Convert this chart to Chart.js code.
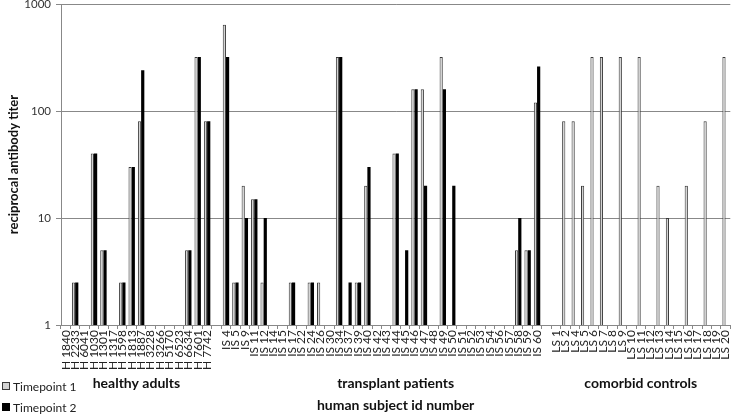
<!DOCTYPE html>
<html>
<head>
<meta charset="utf-8">
<script src="https://cdn.jsdelivr.net/npm/chart.js@4.4.1/dist/chart.umd.min.js"></script>
<style>
  html, body { margin: 0; padding: 0; background: #fff; }
  #wrap { position: relative; width: 741px; height: 416px; }
</style>
</head>
<body>
<div id="wrap"><canvas id="titerChart"></canvas></div>
<script>
// subject ids per group
const hLabels = ['H 1840', 'H 2233', 'H 6041', 'H 1030', 'H 1301', 'H 1317', 'H 1598', 'H 1813',
                 'H 1887', 'H 3228', 'H 3266', 'H 5170', 'H 6523', 'H 6634', 'H 7601', 'H 7742'];
const isLabels = ['IS 4', 'IS 5', 'IS 9', 'IS 11', 'IS 12', 'IS 14', 'IS 15', 'IS 17', 'IS 22', 'IS 24',
                  'IS 26', 'IS 30', 'IS 34', 'IS 37', 'IS 39', 'IS 40', 'IS 42', 'IS 43', 'IS 44', 'IS 45',
                  'IS 46', 'IS 47', 'IS 48', 'IS 49', 'IS 50', 'IS 51', 'IS 52', 'IS 53', 'IS 54', 'IS 56',
                  'IS 57', 'IS 58', 'IS 59', 'IS 60'];
const lsLabels = ['LS 1', 'LS 2', 'LS 4', 'LS 5', 'LS 6', 'LS 7', 'LS 8', 'LS 9', 'LS 10', 'LS 11',
                  'LS 12', 'LS 13', 'LS 14', 'LS 15', 'LS 16', 'LS 17', 'LS 18', 'LS 19', 'LS 20'];

// reciprocal titers (null = no bar)
const hT1 = [null, 2.5, null, 40, 5, null, 2.5, 30, 80, null, null, null, null, 5, 320, 80];
const hT2 = [null, 2.5, null, 40, 5, null, 2.5, 30, 240, null, null, null, null, 5, 320, 80];
const isT1 = [640, 2.5, 20, 15, 2.5, null, null, 2.5, null, 2.5, 2.5, null, 320, null, 2.5, 20, null,
              null, 40, null, 160, 160, null, 320, null, null, null, null, null, null, null, 5, 5, 120];
const isT2 = [320, 2.5, 10, 15, 10, null, null, 2.5, null, 2.5, null, null, 320, 2.5, 2.5, 30, null,
              null, 40, 5, 160, 20, null, 160, 20, null, null, null, null, null, null, 10, 5, 260];
const lsT1 = [null, 80, 80, 20, 320, 320, null, 320, null, 320, null, 20, 10, null, 20, null, 80, null, 320];
const lsT2 = [null, null, null, null, null, null, null, null, null, null, null, null, null, null, null, null, null, null, null];

const yTicks = [1, 10, 100, 1000];
const groupNames = ['healthy adults', 'transplant patients', 'comorbid controls'];
const seriesNames = ['Timepoint 1', 'Timepoint 2'];

// one empty slot between groups
const categories = [...hLabels, '', ...isLabels, '', ...lsLabels];
const timepoint1 = [...hT1, null, ...isT1, null, ...lsT1];
const timepoint2 = [...hT2, null, ...isT2, null, ...lsT2];

const FONT = 'Lato, "Liberation Sans", sans-serif';
const T1_FILL = '#d4d4d4', T1_EDGE = '#3a3a3a', T2_FILL = '#000000';

const groupsPlugin = {
    id: 'groups',
    afterDraw(chart) {
        const ctx = chart.ctx;
        const x = chart.scales.x;
        const area = chart.chartArea;
        const hStart = 0, hEnd = hLabels.length - 1;
        const lStart = hLabels.length + isLabels.length + 2, lEnd = categories.length - 1;
        const mid = (area.left + area.right) / 2;

        ctx.save();
        ctx.fillStyle = '#111';
        ctx.textAlign = 'center';
        ctx.textBaseline = 'middle';
        ctx.font = 'bold 14px ' + FONT;
        ctx.fillText(groupNames[0], (x.getPixelForValue(hStart) + x.getPixelForValue(hEnd)) / 2, 383);
        ctx.fillText(groupNames[1], mid, 383);
        ctx.fillText(groupNames[2], (x.getPixelForValue(lStart) + x.getPixelForValue(lEnd)) / 2, 383);
        ctx.fillText('human subject id number', mid, 405);

        // legend, bottom left
        ctx.textAlign = 'left';
        ctx.font = '12px ' + FONT;
        ctx.fillStyle = T1_FILL;
        ctx.fillRect(2, 382, 8, 8);
        ctx.strokeStyle = T1_EDGE;
        ctx.lineWidth = 1;
        ctx.strokeRect(2.5, 382.5, 7, 7);
        ctx.fillStyle = T2_FILL;
        ctx.fillRect(2, 403, 8, 8);
        ctx.fillStyle = '#222';
        ctx.fillText(seriesNames[0], 13, 387);
        ctx.fillText(seriesNames[1], 13, 408);
        ctx.restore();
    }
};

new Chart(document.getElementById('titerChart'), {
    type: 'bar',
    data: {
        labels: categories,
        datasets: [{
            label: seriesNames[0],
            data: timepoint1,
            backgroundColor: T1_FILL,
            borderColor: T1_EDGE,
            borderWidth: 1,
            borderSkipped: 'bottom',
            barPercentage: 1.0,
            categoryPercentage: 0.68
        }, {
            label: seriesNames[1],
            data: timepoint2,
            backgroundColor: T2_FILL,
            borderWidth: 0,
            barPercentage: 1.0,
            categoryPercentage: 0.68
        }]
    },
    options: {
        responsive: true,
        maintainAspectRatio: false,
        animation: false,
        layout: { padding: { top: 4, right: 2, left: 0, bottom: 0 } },
        plugins: {
            legend: { display: false },
            tooltip: { enabled: false }
        },
        scales: {
            x: {
                grid: {
                    offset: true,
                    drawOnChartArea: false,
                    drawTicks: true,
                    tickLength: 4,
                    color: '#888'
                },
                border: { color: '#888' },
                ticks: {
                    autoSkip: false,
                    maxRotation: 90,
                    minRotation: 90,
                    padding: 1,
                    color: '#222',
                    font: { family: FONT, size: 12 }
                },
                afterFit(scale) { scale.height = 91; }
            },
            y: {
                type: 'logarithmic',
                min: 1,
                max: 1000,
                afterBuildTicks(scale) { scale.ticks = yTicks.map(v => ({ value: v })); },
                grid: { color: '#888', tickLength: 5 },
                border: { color: '#888' },
                ticks: {
                    padding: 5,
                    color: '#333',
                    font: { family: FONT, size: 11.5 },
                    callback: (v) => String(v)
                },
                title: {
                    display: true,
                    text: 'reciprocal antibody titer',
                    color: '#111',
                    font: { family: FONT, size: 13, weight: 'bold' },
                    padding: { top: 6, bottom: 0 }
                },
                afterFit(scale) {
                    scale.width = 61;
                    scale.paddingTop = 0;
                    scale.paddingBottom = 0;
                }
            }
        }
    },
    plugins: [groupsPlugin]
});
</script>
</body>
</html>
